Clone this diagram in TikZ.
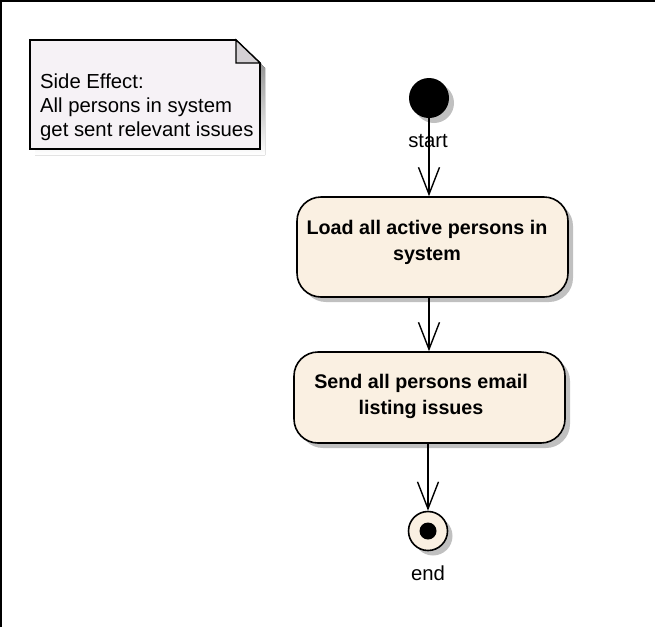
\documentclass[tikz,border=0pt]{standalone}
\usepackage{fontspec}
\setmainfont{Liberation Sans}
\usetikzlibrary{arrows.meta,positioning,shadows}
\definecolor{notefill}{RGB}{246,242,246}
\definecolor{notefold}{RGB}{212,208,212}
\definecolor{actfill}{RGB}{250,240,226}
\definecolor{shade}{RGB}{192,192,192}

\begin{document}
\begin{tikzpicture}[x=1pt,y=-1pt,
  solid shadow/.style={drop shadow={shadow xshift=5pt,shadow yshift=-5pt,fill=shade,opacity=1}},
  action/.style={draw=black,line width=1.6pt,fill=actfill,rounded corners=24pt,
    minimum width=271pt,inner sep=0pt,solid shadow},
  acttext/.style={font=\fontsize{19.7}{26}\selectfont\bfseries,align=center,inner sep=0pt},
  lbl/.style={font=\fontsize{20.3}{24}\selectfont,inner sep=0pt},
  flow/.style={line width=1.4pt,-{Straight Barb[length=27pt,width=21pt]}}]
\useasboundingbox (0,0) rectangle (655,627);
\draw [line width=1.5pt] (0.75,627) -- (0.75,0.75) -- (655,0.75);

% note
\fill [shade] (35,45) -- (241,45) -- (265,68) -- (265,155) -- (35,155) -- cycle;
\draw [line width=1.6pt,fill=notefill] (30,40) -- (236,40) -- (260,63) -- (260,149) -- (30,149) -- cycle;
\draw [line width=1.2pt,fill=notefold] (236,40) -- (236,63) -- (260,63) -- cycle;
\node [lbl,align=left,anchor=west] (sidefx) at (40,107) {Side Effect:\\All persons in system\\get sent relevant issues};

% states
\node [circle,fill=black,minimum size=40pt,inner sep=0pt,solid shadow] (initial) at (429,98) {};
\node [lbl] (startlbl) at (428,141) {start};
\node [action,minimum height=100pt] (load) at (432.5,247) {};
\node [acttext] (loadtxt) at (427,242) {Load all active persons in\\system};
\node [action,minimum height=91pt] (send) at (429.5,397.5) {};
\node [acttext] (sendtxt) at (421,396) {Send all persons email\\listing issues};
\node [circle,draw=black,line width=1.6pt,fill=actfill,minimum size=39pt,inner sep=0pt,solid shadow] (final) at (428,531) {};
\node [circle,fill=black,minimum size=17pt,inner sep=0pt] (finaldot) at (final) {};
\node [lbl] (endlbl) at (428,573) {end};

% flows
\draw [flow] (initial.south) -- (initial.south |- load.north);
\draw [flow] (initial |- load.south) -- (initial |- send.north);
\draw [flow] (final |- send.south) -- (final.north);
\end{tikzpicture}
\end{document}
